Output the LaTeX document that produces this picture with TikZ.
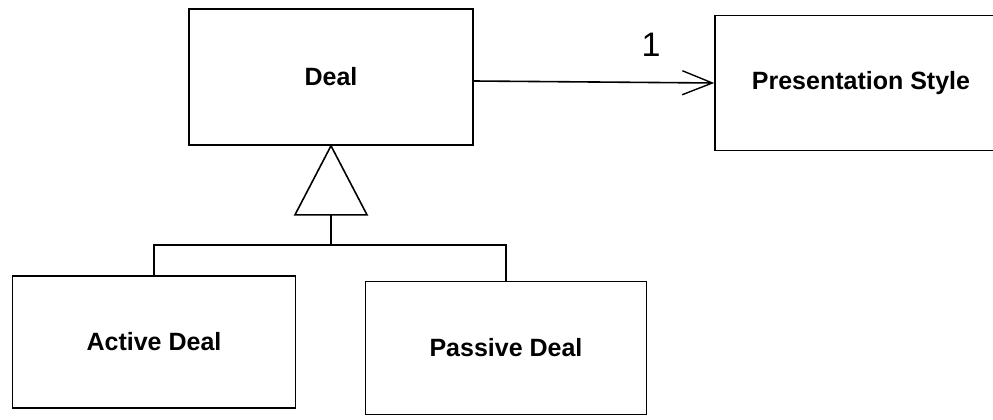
\documentclass[tikz,border=0pt]{standalone}
\usepackage{fontspec}
\setmainfont{Liberation Sans}
\usetikzlibrary{arrows.meta,positioning}

\begin{document}
\begin{tikzpicture}[x=1pt, y=-1pt, line width=1.6pt,
        cls/.style={draw, rectangle, font=\fontsize{25}{29}\selectfont\bfseries},
        assoc/.style={-{Straight Barb[length=30pt, width=24pt, line width=1.4pt]}}]
        \useasboundingbox (0,0) rectangle (993,420);
        \node[cls, minimum width=284pt, minimum height=136pt] (deal) at (331,77) {Deal};
        \node[cls, minimum width=292pt, minimum height=135pt] (style) at (861,83) {Presentation Style};
        \node[cls, minimum width=283pt, minimum height=132pt] (active) at (154,342) {Active Deal};
        \node[cls, minimum width=281pt, minimum height=133pt] (passive) at (506,348) {Passive Deal};
        \draw[assoc] (deal.east |- style.west) ++(0,-2) -- (style.west);
        \node[font=\fontsize{34}{38}\selectfont] (mult) at (651,45) {1};
        % generalization
        \draw[line join=miter] (deal.south) -- ++(-36,69) coordinate (triL) -- ++(72,0) -- cycle;
        \draw (triL) ++(36,0) coordinate (tri) -- ++(0,30) coordinate (bar);
        \draw (active.north) |- (bar) -| (passive.north);
    \end{tikzpicture}
\end{document}
